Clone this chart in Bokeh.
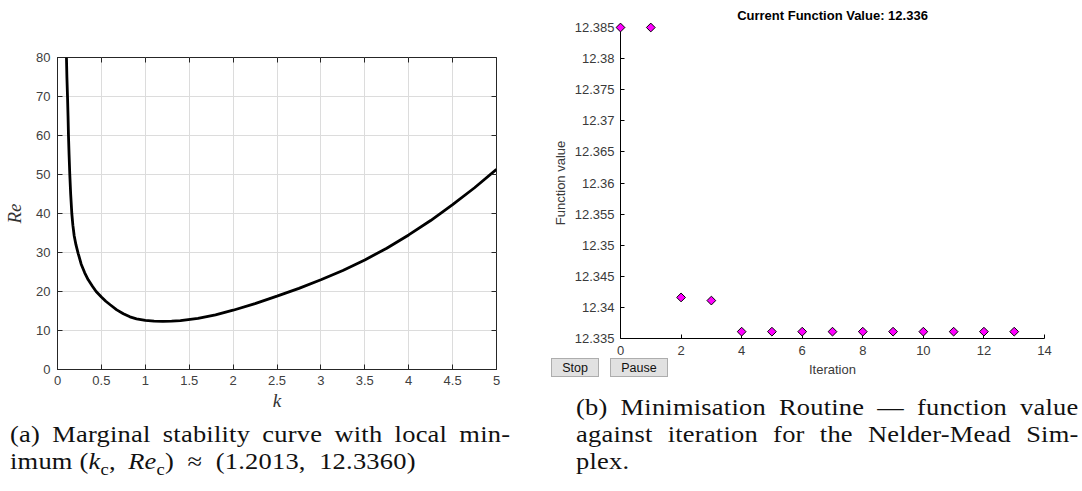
from bokeh.plotting import figure
from bokeh.models import (LinearAxis, FixedTicker, CustomJSTickFormatter, Range1d, Div)
from bokeh.layouts import row, column
from bokeh.embed import file_html
from bokeh.resources import INLINE

# ---------------- data ----------------
k_vals = [0.102, 0.107, 0.114, 0.12, 0.125, 0.132, 0.14, 0.15, 0.163, 0.175, 0.19,
          0.21, 0.235, 0.27, 0.31, 0.35, 0.4, 0.44, 0.5, 0.55, 0.6, 0.675, 0.75,
          0.825, 0.9, 1.0, 1.1, 1.2, 1.3, 1.4, 1.6, 1.8, 2.0, 2.25, 2.5, 2.75,
          3.0, 3.25, 3.5, 3.75, 4.0, 4.25, 4.5, 4.75, 5.0]
re_vals = [80.0, 75.0, 70.0, 65.0, 60.0, 55.0, 50.0, 45.0, 40.0, 37.0, 34.3,
           32.0, 29.8, 27.0, 24.8, 23.0, 21.3, 20.0, 18.6, 17.5, 16.6, 15.3, 14.3,
           13.5, 13.0, 12.6, 12.4, 12.34, 12.38, 12.55, 13.1, 14.0, 15.2, 16.9, 18.8,
           20.8, 23.0, 25.4, 28.1, 31.1, 34.5, 38.2, 42.3, 46.6, 51.3]

iterations = [0, 1, 2, 3, 4, 5, 6, 7, 8, 9, 10, 11, 12, 13]
fvals = [12.385, 12.385, 12.3416, 12.3411, 12.3361, 12.3361, 12.3361, 12.3361,
         12.3361, 12.3361, 12.3361, 12.3361, 12.3361, 12.3361]

a_xticks = [0, 0.5, 1, 1.5, 2, 2.5, 3, 3.5, 4, 4.5, 5]
a_yticks = [0, 10, 20, 30, 40, 50, 60, 70, 80]
b_xticks = [0, 2, 4, 6, 8, 10, 12, 14]
b_yticks = [12.335, 12.34, 12.345, 12.35, 12.355, 12.36, 12.365, 12.37, 12.375, 12.38, 12.385]

title_b = "Current Function Value: 12.336"
buttons_b = ["Stop", "Pause"]
caption_a = ["(a) Marginal stability curve with local min-",
             "imum (<i>k</i><sub style=\"font-size:70%\">c</sub>,&thinsp; <i>Re</i><sub style=\"font-size:70%\">c</sub>)&ensp;&asymp;&ensp;(1.2013,&ensp;12.3360)"]
caption_b = ["(b) Minimisation Routine &mdash; function value",
             "against iteration for the Nelder-Mead Sim-",
             "plex."]

fmt = CustomJSTickFormatter(code="return String(parseFloat(tick.toFixed(4)));")
blank = CustomJSTickFormatter(code="return '';")
SANS = "Liberation Sans"
SERIF = "Liberation Serif"

# ---------------- (a) marginal stability curve ----------------
pa = figure(width=540, height=413, x_range=Range1d(0, 5), y_range=Range1d(0, 80),
            output_backend="svg", toolbar_location=None,
            min_border_left=57, min_border_right=44, min_border_top=57, min_border_bottom=43)
pa.line(k_vals, re_vals, line_color="black", line_width=2.8)
for ax in (pa.xaxis[0], pa.yaxis[0]):
    ax.major_tick_in = 5
    ax.major_tick_out = 0
    ax.minor_tick_line_color = None
    ax.axis_line_color = "#262626"
    ax.major_tick_line_color = "#262626"
    ax.major_label_text_font = SANS
    ax.major_label_text_font_size = "13px"
    ax.major_label_text_color = "#404040"
    ax.formatter = fmt
    ax.axis_label_text_font = SERIF
    ax.axis_label_text_font_style = "italic"
    ax.axis_label_text_font_size = "19px"
    ax.axis_label_text_color = "#333333"
pa.xaxis[0].ticker = FixedTicker(ticks=a_xticks)
pa.yaxis[0].ticker = FixedTicker(ticks=a_yticks)
pa.xaxis[0].axis_label = "k"
pa.yaxis[0].axis_label = "Re"
pa.xaxis[0].major_label_standoff = 6
pa.xaxis[0].axis_label_standoff = 2
pa.yaxis[0].major_label_standoff = 7
pa.yaxis[0].axis_label_standoff = 8
pa.xgrid.ticker = FixedTicker(ticks=a_xticks)
pa.ygrid.ticker = FixedTicker(ticks=a_yticks)
pa.xgrid.grid_line_color = "#dcdcdc"
pa.ygrid.grid_line_color = "#dcdcdc"
pa.outline_line_color = "#262626"
for tks, place in [(a_xticks, "above"), (a_yticks, "right")]:
    pa.add_layout(LinearAxis(ticker=FixedTicker(ticks=tks), formatter=blank,
                             major_tick_in=5, major_tick_out=0, minor_tick_line_color=None,
                             axis_line_color=None, major_tick_line_color="#262626",
                             major_label_standoff=0), place)

# ---------------- (b) minimisation routine ----------------
pb = figure(width=542, height=390, x_range=Range1d(0, 14), y_range=Range1d(12.335, 12.385),
            output_backend="svg", toolbar_location=None,
            min_border_left=80, min_border_right=38, min_border_top=27, min_border_bottom=52)
pb.title.text = title_b
pb.title.align = "center"
pb.title.text_font = SANS
pb.title.text_font_size = "13px"
pb.title.text_font_style = "bold"
pb.title.text_color = "black"
pb.title.standoff = 10
pb.xgrid.visible = False
pb.ygrid.visible = False
pb.outline_line_color = None
for ax in (pb.xaxis[0], pb.yaxis[0]):
    ax.major_tick_in = 4
    ax.major_tick_out = 0
    ax.minor_tick_line_color = None
    ax.axis_line_color = "black"
    ax.major_tick_line_color = "black"
    ax.major_label_text_font = SANS
    ax.major_label_text_font_size = "13px"
    ax.major_label_text_color = "#3a3a3a"
    ax.formatter = fmt
    ax.axis_label_text_font = SANS
    ax.axis_label_text_font_style = "normal"
    ax.axis_label_text_font_size = "13px"
    ax.axis_label_text_color = "#3a3a3a"
pb.xaxis[0].ticker = FixedTicker(ticks=b_xticks)
pb.yaxis[0].ticker = FixedTicker(ticks=b_yticks)
pb.xaxis[0].axis_label = "Iteration"
pb.yaxis[0].axis_label = "Function value"
pb.xaxis[0].major_label_standoff = 7
pb.xaxis[0].axis_label_standoff = 4
pb.yaxis[0].major_label_standoff = 6
pb.yaxis[0].axis_label_standoff = 4
r = pb.scatter(iterations, fvals, marker="square", angle=0.785398, size=6.2,
               fill_color="#ff00ff", line_color="black", line_width=1)
r.level = "overlay"

# ---------------- captions (and the Stop / Pause buttons, overlaid upward) ----------------
SX = 1.15  # horizontal stretch to mimic the wide Computer Modern face


def lines_html(lines, width, justify_upto):
    out = []
    for i, ln in enumerate(lines):
        if i < justify_upto:
            out.append(f"<div style=\"width:{width}px;text-align:justify;text-align-last:justify;\">{ln}</div>")
        else:
            out.append(f"<div style=\"white-space:nowrap;\">{ln}</div>")
    return "".join(out)


cap_style = ("font-family:Liberation Serif;font-size:23px;line-height:27px;color:#111;"
             f"letter-spacing:0.2px;transform:scaleX({SX});transform-origin:0 0;")

html_a = (f"<div style=\"padding-left:10px;padding-top:8px;\"><div style=\"{cap_style}\">"
          + lines_html(caption_a, round(500 / SX), 1) + "</div></div>")

btn_css = ("position:absolute;top:0;height:19px;line-height:18px;text-align:center;"
           "background:#e1e1e1;border:1px solid #adadad;box-sizing:border-box;"
           "font-family:Liberation Sans;font-size:12.5px;color:#111;")
btns = ("<div style=\"position:relative;height:0;top:-32px;\">"
        f"<div style=\"{btn_css}left:11px;width:48px;\">{buttons_b[0]}</div>"
        f"<div style=\"{btn_css}left:70px;width:58px;\">{buttons_b[1]}</div>"
        "</div>")
html_b = (btns + "<div style=\"margin-left:36px;padding-top:4px;width:506px;overflow:hidden;\">"
          + f"<div style=\"{cap_style}\">"
          + lines_html(caption_b, round(502 / SX), 2) + "</div></div>")

div_a = Div(text=html_a, width=540, height=78, margin=(0, 0, 0, 0),
            styles={"overflow": "hidden"})
div_b = Div(text=html_b, width=542, height=101, margin=(0, 0, 0, 0))

layout = row(column(pa, div_a, spacing=0), column(pb, div_b, spacing=0), spacing=0)
open("out.html", "w").write(file_html(layout, INLINE))
